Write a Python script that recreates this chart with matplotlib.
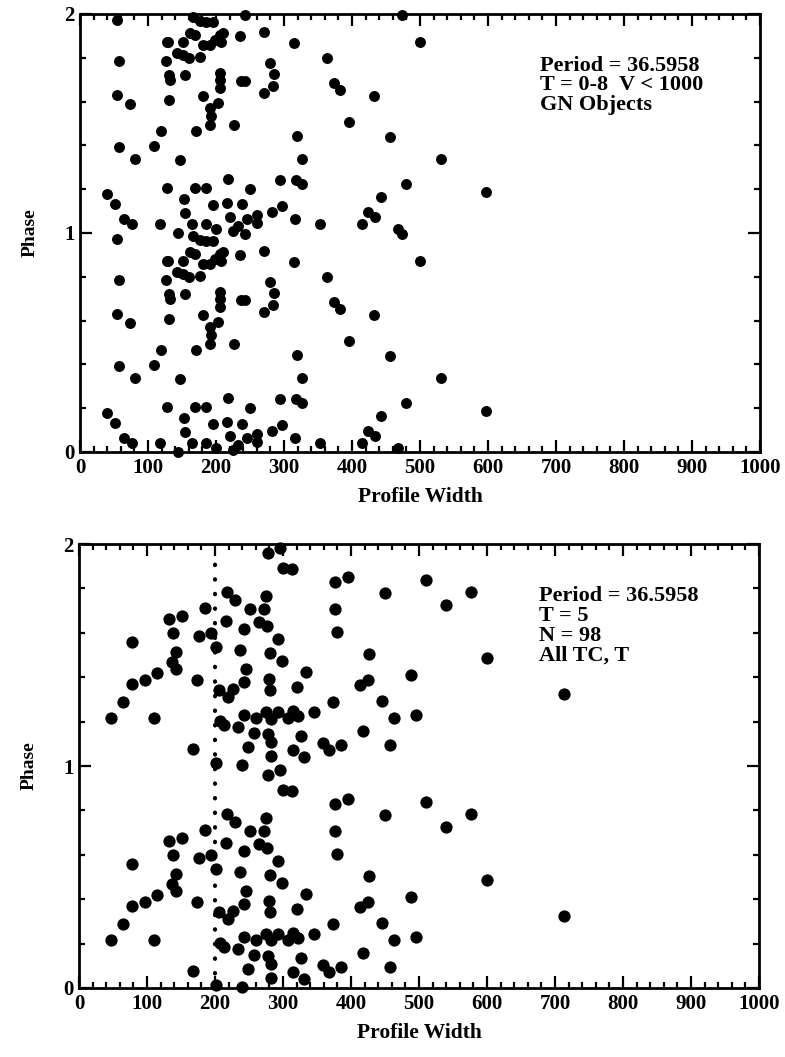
import matplotlib.pyplot as plt
from matplotlib.ticker import MultipleLocator

# GN objects, T = 0-8, V < 1000 : profile width and phase (0-1)
gn_width = [57, 55, 74, 57, 81, 39, 51, 64, 77, 118, 55,
            128, 126, 131, 132, 131, 119, 109, 147, 128, 153, 155, 144,
            162, 169, 130, 152, 142, 152, 161, 154, 176, 181, 191, 199, 206, 211, 208, 235, 271, 314,
            181, 203, 191, 192, 191, 171, 226,
            206, 206, 206, 237, 242,
            279, 285, 284, 270,
            319, 327, 318, 327, 294, 297, 282, 316, 353,
            363, 374, 382, 395, 432, 456, 442, 424, 434, 415, 468, 474,
            169, 186, 218, 250, 195, 216, 238, 221, 165, 186, 200, 245, 260, 260, 233, 225, 243,
            166, 176, 186, 195,
            500, 531, 480, 597]
gn_phase = [0.786, 0.628, 0.589, 0.391, 0.338, 0.178, 0.133, 0.066, 0.042, 0.042, 0.973,
            0.871, 0.783, 0.722, 0.699, 0.608, 0.467, 0.395, 0.335, 0.206, 0.153, 0.092, 0.000,
            0.912, 0.904, 0.871, 0.871, 0.821, 0.813, 0.798, 0.722, 0.805, 0.859, 0.859, 0.882, 0.904, 0.912, 0.871, 0.901, 0.917, 0.869,
            0.626, 0.593, 0.570, 0.532, 0.494, 0.464, 0.494,
            0.730, 0.699, 0.661, 0.692, 0.695,
            0.775, 0.727, 0.672, 0.639,
            0.444, 0.339, 0.244, 0.224, 0.244, 0.122, 0.097, 0.065, 0.042,
            0.798, 0.684, 0.651, 0.507, 0.626, 0.437, 0.163, 0.097, 0.072, 0.042, 0.016, 0.993,
            0.206, 0.206, 0.247, 0.201, 0.127, 0.138, 0.130, 0.074, 0.042, 0.042, 0.020, 0.066, 0.084, 0.046, 0.031, 0.008, 0.993,
            0.986, 0.970, 0.963, 0.963,
            0.871, 0.339, 0.224, 0.188]

# All TC, T = 5 : profile width and phase (0-1)
tc_width = [47, 65, 78, 97, 115, 78, 110, 133, 152, 138, 142, 137, 143, 168, 173, 177, 194, 186, 202,
            217, 229, 216, 251, 243, 275, 272, 265, 277, 293, 237, 281, 298, 245, 242, 280, 281, 320, 334,
            206, 219, 227, 278, 300, 313, 376, 395, 450, 376, 379, 426, 413, 425, 374, 446, 464, 346,
            260, 275, 282, 293, 308, 315, 322, 242,
            207, 214, 234, 258, 278, 282, 327, 248, 283, 315, 331, 359, 368, 386, 417, 457, 202, 240, 296,
            511, 540, 577, 600, 489, 496, 713]
tc_phase = [0.215, 0.290, 0.369, 0.387, 0.420, 0.557, 0.218, 0.661, 0.676, 0.598, 0.515, 0.470, 0.435, 0.075, 0.387, 0.586, 0.600, 0.713, 0.537,
            0.785, 0.748, 0.655, 0.706, 0.617, 0.767, 0.707, 0.650, 0.632, 0.571, 0.523, 0.510, 0.473, 0.436, 0.380, 0.390, 0.342, 0.357, 0.422,
            0.342, 0.312, 0.348, 0.958, 0.894, 0.888, 0.830, 0.853, 0.781, 0.706, 0.605, 0.505, 0.367, 0.387, 0.287, 0.294, 0.218, 0.242,
            0.215, 0.245, 0.214, 0.245, 0.217, 0.247, 0.225, 0.230,
            0.203, 0.183, 0.177, 0.150, 0.143, 0.108, 0.136, 0.087, 0.045, 0.073, 0.040, 0.102, 0.072, 0.096, 0.157, 0.095, 0.015, 0.005, 0.984,
            0.840, 0.725, 0.785, 0.485, 0.410, 0.228, 0.325]

cut_width = 200
cut_top = 1.93

top_text = "Period = 36.5958\nT = 0-8  V < 1000\nGN Objects"
bottom_text = "Period = 36.5958\nT = 5\nN = 98\nAll TC, T"

plt.rcParams['font.family'] = ['Liberation Serif', 'DejaVu Serif']
plt.rcParams['font.weight'] = 'bold'

fig = plt.figure(figsize=(7.85, 10.57), dpi=100)
ax1 = fig.add_axes([0.1019, 0.5724, 0.8662, 0.4144])
ax2 = fig.add_axes([0.1006, 0.0653, 0.8662, 0.4200])


def style(ax):
    ax.set_xlim(0, 1000)
    ax.set_ylim(0, 2)
    ax.xaxis.set_major_locator(MultipleLocator(100))
    ax.xaxis.set_minor_locator(MultipleLocator(20))
    ax.yaxis.set_major_locator(MultipleLocator(1))
    ax.yaxis.set_minor_locator(MultipleLocator(0.2))
    ax.tick_params(which='both', direction='in', top=True, right=True, width=1.6)
    ax.tick_params(which='major', length=8.5, labelsize=15, pad=4)
    ax.tick_params(which='minor', length=4.5)
    for s in ax.spines.values():
        s.set_linewidth(2)
    for lab in ax.get_xticklabels() + ax.get_yticklabels():
        lab.set_fontweight('bold')
    ax.set_xlabel("Profile Width", fontsize=15.5, fontweight='bold', labelpad=7)
    ax.set_ylabel("Phase", fontsize=14, fontweight='bold', labelpad=18)


# each object is shown twice: phase and phase + 1
ax1.scatter(gn_width, gn_phase, s=62, color='black', linewidths=0, clip_on=False, zorder=3)
ax1.scatter(gn_width, [p + 1 for p in gn_phase], s=62, color='black', linewidths=0, clip_on=False, zorder=3)
style(ax1)
ax1.text(0.676, 0.905, top_text, transform=ax1.transAxes, fontsize=16, fontweight='bold',
         va='top', ha='left', linespacing=0.98)

ax2.plot([cut_width, cut_width], [0, cut_top], color='black', lw=3,
         linestyle=(0, (0.1, 3.4)), dash_capstyle='round', zorder=2)
ax2.scatter(tc_width, tc_phase, s=78, color='black', linewidths=0, clip_on=False, zorder=3)
ax2.scatter(tc_width, [p + 1 for p in tc_phase], s=78, color='black', linewidths=0, clip_on=False, zorder=3)
style(ax2)
ax2.text(0.676, 0.905, bottom_text, transform=ax2.transAxes, fontsize=16, fontweight='bold',
         va='top', ha='left', linespacing=0.98)

fig.savefig("out.png", dpi=100)
